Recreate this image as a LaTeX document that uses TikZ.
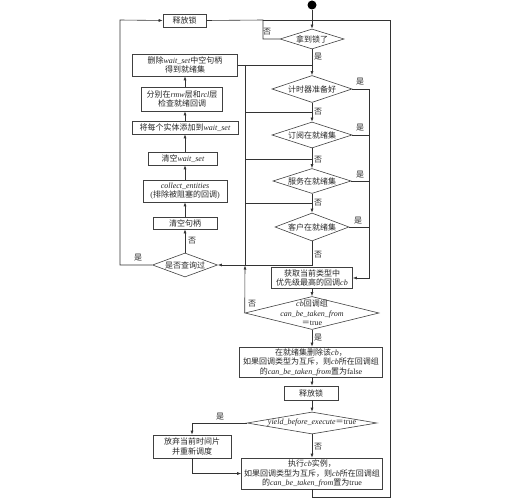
\documentclass[tikz,border=0pt]{standalone}
\usepackage{fontspec}
\setmainfont{Liberation Serif}
\newfontfamily\cjkfont{Noto Sans CJK SC}
\usetikzlibrary{arrows.meta,shapes.geometric}
\newcommand\Z[1]{{\cjkfont #1}}
\newcommand\fs{\fontsize{8}{9.5}\selectfont}
\tikzset{
  ln/.style={draw=black!80, line width=0.6pt},
  arr/.style={ln, -{Latex[length=4pt,width=3pt]}},
  box/.style={draw=black!75, line width=0.6pt, rectangle, inner sep=0pt, align=center, font=\fs, text=black!85},
  dia/.style={draw=black!75, line width=0.6pt, diamond, inner sep=0pt},
  every label/.style={font=\fs, align=center, inner sep=0pt, text=black!85},
  lab/.style={font=\fs, inner sep=0pt, text=black!85},
}
\begin{document}
\begin{tikzpicture}[x=1pt,y=-1pt]
\useasboundingbox (0,0) rectangle (509,500);
% start
\node[circle, fill=black, minimum size=9pt, inner sep=0pt] (start) at (312,5) {};
% spine diamonds
\node[dia, minimum width=64pt, minimum height=20pt, label=center:{\Z{拿到锁了}}] (lock) at (312,39) {};
\node[dia, minimum width=80pt, minimum height=27pt, label=center:{\Z{计时器准备好}}] (timer) at (312,89) {};
\node[dia, minimum width=80pt, minimum height=26pt, label=center:{\Z{订阅在就绪集}}] (sub) at (312,135) {};
\node[dia, minimum width=78pt, minimum height=25pt, label=center:{\Z{服务在就绪集}}] (srv) at (312,181) {};
\node[dia, minimum width=74pt, minimum height=28pt, label=center:{\Z{客户在就绪集}}] (cli) at (312,227) {};
\node[box, minimum width=81pt, minimum height=21pt] (getcb) at (312,278) {\Z{获取当前类型中}\\\Z{优先级最高的回调}\textit{cb}};
\node[dia, minimum width=134pt, minimum height=33pt, label=center:{\textit{cb}\Z{回调组}\\\textit{can\_be\_taken\_from}\\\Z{＝}true}] (cbgroup) at (312,313) {};
\node[box, minimum width=143pt, minimum height=30pt] (del) at (311,362) {\Z{在就绪集删除该}\textit{cb}\Z{，}\\\Z{如果回调类型为互斥，则}\textit{cb}\Z{所在回调组}\\\Z{的}\textit{can\_be\_taken\_from}\Z{置为}false};
\node[box, minimum width=54pt, minimum height=14pt] (rel2) at (311,393) {\Z{释放锁}};
\node[dia, minimum width=130pt, minimum height=22pt, label=center:{\textit{yield\_before\_execute}\Z{＝}true}] (yield) at (312,423) {};
\node[box, minimum width=78pt, minimum height=23pt] (rmq) at (192,446.5) {\Z{放弃当前时间片}\\\Z{并重新调度}};
\node[box, minimum width=141pt, minimum height=31pt] (exec) at (312,473.5) {\Z{执行}\textit{cb}\Z{实例，}\\\Z{如果回调类型为互斥，则}\textit{cb}\Z{所在回调组}\\\Z{的}\textit{can\_be\_taken\_from}\Z{置为}true};
% left column
\node[box, minimum width=43pt, minimum height=13pt] (rel1) at (184.5,20.5) {\Z{释放锁}};
\node[box, minimum width=105pt, minimum height=22pt] (delnull) at (185,65) {\Z{删除}\textit{wait\_set}\Z{中空句柄}\\\Z{得到就绪集}};
\node[box, minimum width=81pt, minimum height=24pt] (check) at (182,99) {\Z{分别在}\textit{rmw}\Z{层和}\textit{rcl}\Z{层}\\\Z{检查就绪回调}};
\node[box, minimum width=106pt, minimum height=13pt] (add) at (185,127.5) {\Z{将每个实体添加到}\textit{wait\_set}};
\node[box, minimum width=69pt, minimum height=13pt] (clear) at (183,158.5) {\Z{清空}\textit{wait\_set}};
\node[box, minimum width=84pt, minimum height=22pt] (collect) at (185,191) {\textit{collect\_entities}\\(\Z{排除被阻塞的回调})};
\node[box, minimum width=64pt, minimum height=12pt] (clrh) at (185,223) {\Z{清空句柄}};
\node[dia, minimum width=65pt, minimum height=24pt, label=center:{\Z{是否查询过}}] (queried) at (185,265) {};
% spine connectors
\draw[arr] (start.south) -- (lock.north);
\draw[arr] (lock.south) -- (timer.north);
\draw[arr] (timer.south) -- (sub.north);
\draw[arr] (sub.south) -- (srv.north);
\draw[arr] (srv.south) -- (cli.north);
\draw[arr] (cli.south) -- (312,265) -- (queried.east);
% left join lines
\draw[ln] (delnull.east) -- (312,65);
\draw[ln] (245,65) -- (245,265);
\draw[arr] (cbgroup.west) -- (245,265.5);
\draw[ln] (245,112) -- (312,112);
\draw[ln] (245,159) -- (312,159);
\draw[ln] (245,203) -- (312,203);
% right yes branches
\draw[arr] (timer.east) -- (369,89) |- (getcb.east);
\draw[ln] (sub.east) -- (369,135);
\draw[ln] (srv.east) -- (369,181);
\draw[ln] (cli.east) -- (369,227);
% lower flow
\draw[arr] (getcb.south) -- (cbgroup.north);
\draw[arr] (cbgroup.south) -- (del.north -| cbgroup.south);
\draw[arr] (del.south -| cbgroup.south) -- (rel2.north -| cbgroup.south);
\draw[arr] (rel2.south -| cbgroup.south) -- (yield.north);
\draw[arr] (yield.south) -- (exec.north);
\draw[arr] (yield.west) -| (rmq.north);
\draw[arr] (rmq.south) |- (exec.west);
% left column flow
\draw[arr] (queried.north) -- (clrh.south);
\draw[arr] (clrh.north) -- (collect.south);
\draw[arr] (collect.north) -- (collect.north |- clear.south);
\draw[arr] (collect.north |- clear.north) -- (collect.north |- add.south);
\draw[arr] (add.north) -- (add.north |- check.south);
\draw[arr] (add.north |- check.north) -- (delnull.south);
\draw[arr] (queried.west) -| (120,20) -- (rel1.west);
% top and outer loop
\draw[ln] (rel1.east) -- (263,20) |- (lock.west);
\draw[ln] (263,20) -- (390,20);
\draw[ln] (exec.south) -- (312,497) -| (390,20);
% labels
\node[lab] (l1) at (267,32) {\Z{否}};
\node[lab] (l2) at (318,57) {\Z{是}};
\node[lab] (l3) at (318,112) {\Z{否}};
\node[lab] (l4) at (318,160) {\Z{否}};
\node[lab] (l5) at (318,203) {\Z{否}};
\node[lab] (l6) at (318,255) {\Z{否}};
\node[lab] (l7) at (360,82) {\Z{是}};
\node[lab] (l8) at (360,128) {\Z{是}};
\node[lab] (l9) at (360,175) {\Z{是}};
\node[lab] (l10) at (358,221) {\Z{是}};
\node[lab] (l11) at (192,241) {\Z{否}};
\node[lab] (l12) at (138,258) {\Z{是}};
\node[lab] (l13) at (252,304) {\Z{否}};
\node[lab] (l14) at (318,338) {\Z{是}};
\node[lab] (l15) at (220,417) {\Z{是}};
\node[lab] (l16) at (318,447) {\Z{否}};
\end{tikzpicture}
\end{document}
